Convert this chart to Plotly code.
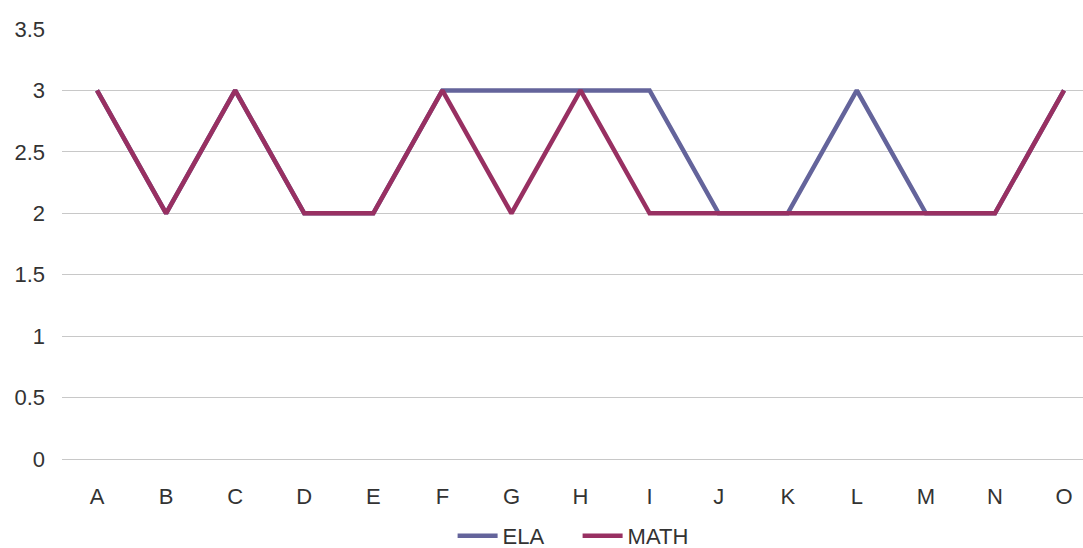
import plotly.graph_objects as go

categories = ["A", "B", "C", "D", "E", "F", "G", "H", "I", "J", "K", "L", "M", "N", "O"]
ela = [3, 2, 3, 2, 2, 3, 3, 3, 3, 2, 2, 3, 2, 2, 3]
math = [3, 2, 3, 2, 2, 3, 2, 3, 2, 2, 2, 2, 2, 2, 3]
y_ticks = [0, 0.5, 1, 1.5, 2, 2.5, 3, 3.5]
y_labels = ["0", "0.5", "1", "1.5", "2", "2.5", "3", "3.5"]

fig = go.Figure()
fig.add_trace(go.Scatter(x=list(range(len(categories))), y=ela, mode="lines", name="ELA",
                         line=dict(color="#64649B", width=4.5)))
fig.add_trace(go.Scatter(x=list(range(len(categories))), y=math, mode="lines", name="MATH",
                         line=dict(color="#983062", width=4.5)))

fig.update_layout(
    width=1083, height=548,
    margin=dict(l=62, r=0, t=29, b=89, autoexpand=False),
    paper_bgcolor="white", plot_bgcolor="white",
    font=dict(family="Liberation Sans, Arial, sans-serif", size=22, color="#333333"),
    showlegend=True,
    legend=dict(orientation="h", x=0.505, xanchor="center", y=0.022, yanchor="middle",
                yref="container", font=dict(size=22, color="#333333"),
                itemwidth=40, entrywidth=70, tracegroupgap=0),
    xaxis=dict(tickmode="array", tickvals=list(range(len(categories))), ticktext=categories,
               range=[-0.507, 14.275], showgrid=False, zeroline=False, showline=False,
               ticks="", ticklabelstandoff=22),
    yaxis=dict(tickmode="array", tickvals=y_ticks, ticktext=y_labels, range=[0, 3.5],
               showgrid=True, gridcolor="#C8C8C8", gridwidth=1, zeroline=True,
               zerolinecolor="#C8C8C8", zerolinewidth=1,
               showline=False, ticks="", ticklabelstandoff=16),
)

fig.write_html("out.html")
